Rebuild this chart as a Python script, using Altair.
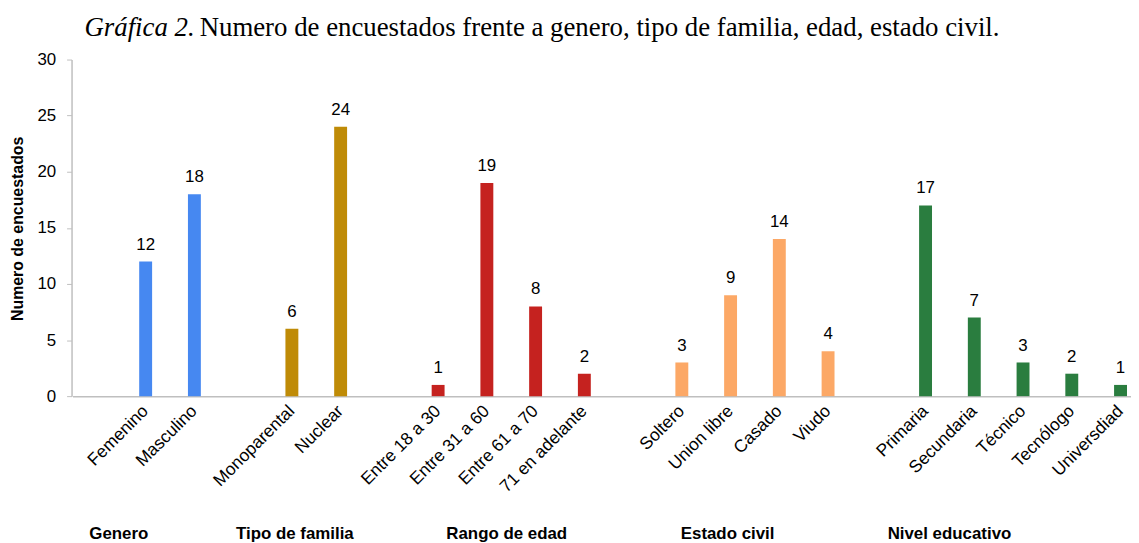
import altair as alt
import pandas as pd

# ---- data ----
groups = ["Genero", "Tipo de familia", "Rango de edad", "Estado civil", "Nivel educativo"]
genero_cats = ["Femenino", "Masculino"]
genero_vals = [12, 18]
familia_cats = ["Monoparental", "Nuclear"]
familia_vals = [6, 24]
edad_cats = ["Entre 18 a 30", "Entre 31 a 60", "Entre 61 a 70", "71 en adelante"]
edad_vals = [1, 19, 8, 2]
civil_cats = ["Soltero", "Union libre", "Casado", "Viudo"]
civil_vals = [3, 9, 14, 4]
educ_cats = ["Primaria", "Secundaria", "Técnico", "Tecnólogo", "Universdiad"]
educ_vals = [17, 7, 3, 2, 1]
colors = ["#4688F1", "#BF8B07", "#C5221F", "#FCA866", "#2A7D3F"]
y_ticks = [0, 5, 10, 15, 20, 25, 30]
title_italic = "Gráfica 2."
title_rest = "Numero de encuestados frente a genero, tipo de familia, edad, estado civil."
y_title = "Numero de encuestados"

all_cats = [genero_cats, familia_cats, edad_cats, civil_cats, educ_cats]
all_vals = [genero_vals, familia_vals, edad_vals, civil_vals, educ_vals]

rows = []
domain = []
for gi, (g, cats, vals) in enumerate(zip(groups, all_cats, all_vals)):
    domain.append(f"_{gi}")  # blank spacer slot
    for c, v in zip(cats, vals):
        domain.append(c)
        rows.append({"cat": c, "valor": v, "grupo": g})
df = pd.DataFrame(rows)

# group label anchors (category under which each group label sits) and shifts
group_anchor = ["Femenino", "Monoparental", "Entre 31 a 60", "Union libre", "Secundaria"]
group_shift = [-27, 3, 20, -3, -25]

xscale = alt.Scale(domain=domain, range=[1, 1081], paddingInner=0, paddingOuter=0)
xaxis = alt.Axis(
    title=None, labelAngle=-45, labelAlign="right", labelBaseline="middle",
    ticks=False, labelPadding=12, labelFontSize=17.5, labelColor="#000000",
    labelFont="Liberation Sans", labelOverlap=False, labelLimit=300,
    labelExpr="indexof(datum.label, '_') == 0 ? '' : datum.label",
    domainColor="#BFBFBF", domainWidth=1.5,
)
yscale = alt.Scale(domain=[0, 30], nice=False)
yaxis = alt.Axis(
    values=y_ticks, grid=False, title=y_title, titleFont="Liberation Sans",
    titleFontSize=16, titleFontWeight="bold", titleColor="#000000",
    titleX=-54, titleY=170, titleAngle=270, titleAlign="center", titleBaseline="middle",
    labelFont="Liberation Sans", labelFontSize=17, labelColor="#000000", labelPadding=11,
    tickSize=5, tickColor="#BFBFBF", domainColor="#BFBFBF", domainWidth=1.5,
)

base = alt.Chart(df)
bars = base.mark_bar(size=13).encode(
    x=alt.X("cat:N", scale=xscale, axis=xaxis, sort=domain),
    y=alt.Y("valor:Q", scale=yscale, axis=yaxis),
    color=alt.Color("grupo:N", scale=alt.Scale(domain=groups, range=colors), legend=None),
)
vals = base.mark_text(dy=-12, baseline="alphabetic", fontSize=17, font="Liberation Sans", color="#000000").encode(
    x=alt.X("cat:N", scale=xscale, sort=domain),
    y=alt.Y("valor:Q", scale=yscale),
    text="valor:Q",
)

layers = [bars, vals]
for g, a, s in zip(groups, group_anchor, group_shift):
    gl = alt.Chart(pd.DataFrame({"cat": [a], "lab": [g]})).mark_text(
        dx=s, baseline="alphabetic", align="center", fontSize=17, fontWeight="bold",
        font="Liberation Sans", color="#000000",
    ).encode(
        x=alt.X("cat:N", scale=xscale, sort=domain),
        y=alt.value(483),
        text="lab:N",
    )
    layers.append(gl)

t1 = alt.Chart(pd.DataFrame({"t": [title_italic]})).mark_text(
    align="left", baseline="alphabetic", font="Liberation Serif", fontStyle="italic",
    fontSize=27, color="#000000",
).encode(x=alt.value(13), y=alt.value(-24), text="t:N")
t2 = alt.Chart(pd.DataFrame({"t": [title_rest]})).mark_text(
    align="left", baseline="alphabetic", font="Liberation Serif",
    fontSize=27, color="#000000",
).encode(x=alt.value(129), y=alt.value(-24), text="t:N")
layers += [t1, t2]

chart = alt.layer(*layers).properties(
    width=1067, height=339,
    autosize=alt.AutoSizeParams(type="none"),
    padding={"left": 64, "top": 50, "right": 0, "bottom": 146},
    background="white",
).configure_view(stroke=None)

chart.save("out.html", embed_options={"renderer": "svg", "actions": False})
